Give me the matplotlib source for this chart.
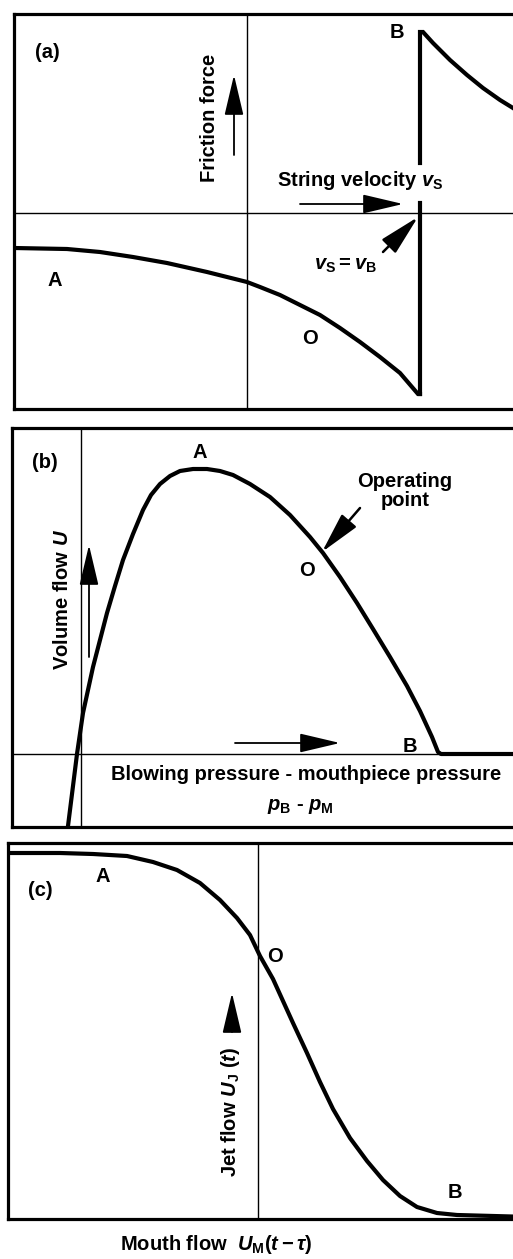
import matplotlib
matplotlib.use('Agg')
import matplotlib.pyplot as plt

# panel (a): friction force vs string velocity
fric_lo_v = [-233, -180, -147, -114, -80, -40, 0, 13, 33, 53, 73, 93, 113, 133, 153, 171, 173]
fric_lo_f = [-35, -36, -39, -44, -50, -59, -69, -74, -82, -92, -102, -115, -129, -144, -160, -181, -181]
fric_hi_v = [173, 173, 176, 186, 203, 220, 236, 253, 266, 272]
fric_hi_f = [50, 181, 181, 170, 153, 138, 125, 113, 105, 101]
jump_v = 173
jump_gap = [10, 50]

# panel (b): volume flow vs pressure difference
dp = [-14, -4, 2, 12, 19, 26, 34, 42, 52, 62, 70, 79, 89, 99, 112, 126, 139, 152, 169, 189,
      209, 229, 242, 259, 276, 292, 309, 326, 339, 351, 357, 360, 449]
flow = [-80, 0, 41, 87, 114, 141, 168, 194, 220, 244, 259, 270, 278, 283, 285, 285, 283, 279, 270, 257,
        239, 217, 201, 177, 151, 125, 97, 68, 43, 17, 2, 0, 0]

# panel (c): jet flow vs mouth flow
mouth = [-246, -198, -165, -131, -105, -81, -58, -38, -21, -8, 2, 15, 25, 35, 42, 49, 62, 75, 92,
         109, 125, 142, 159, 179, 199, 272]
jet = [366, 366, 365, 363, 357, 349, 336, 319, 301, 284, 263, 240, 218, 196, 181, 166, 137, 110, 81,
       58, 39, 23, 12, 6, 4, 2]

W, H = 513, 1259
plt.rcParams['font.family'] = ['Liberation Sans', 'DejaVu Sans']
plt.rcParams['font.weight'] = 'bold'
plt.rcParams['mathtext.fontset'] = 'custom'
plt.rcParams['mathtext.rm'] = 'Liberation Sans:bold'
plt.rcParams['mathtext.it'] = 'Liberation Sans:italic:bold'
plt.rcParams['mathtext.bf'] = 'Liberation Sans:bold'

fig = plt.figure(figsize=(W / 100, H / 100), dpi=100)
fig.patch.set_facecolor('white')


def px_axes(l, t, r, b, xlim, ylim):
    ax = fig.add_axes([l / W, 1 - b / H, (r - l) / W, (b - t) / H])
    ax.set_xlim(*xlim)
    ax.set_ylim(*ylim)
    ax.set_xticks([]), ax.set_yticks([])
    for s in ax.spines.values():
        s.set_linewidth(2.3)
    return ax


def arrow(ax, tail, tip, lw=1.3):
    ax.annotate('', xy=tip, xytext=tail,
                arrowprops=dict(arrowstyle='-|>,head_length=1.4,head_width=0.33',
                                lw=lw, color='k', mutation_scale=18,
                                shrinkA=0, shrinkB=0))


LW = 3.0
FS = 14.5

# ---- (a)
ax = px_axes(14, 14, 530, 409, (-233, 283), (-196, 199))
ax.axhline(0, color='k', lw=1.0)
ax.axvline(0, color='k', lw=1.0)
ax.plot(fric_lo_v, fric_lo_f, color='k', lw=LW, solid_joinstyle='miter')
ax.plot([jump_v, jump_v], [-181, jump_gap[0]], color='k', lw=LW)
ax.plot(fric_hi_v, fric_hi_f, color='k', lw=LW, solid_joinstyle='miter')
ax.text(-200, 161, '(a)', fontsize=FS, ha='center', va='center')
ax.text(-37, 95, 'Friction force', fontsize=FS, rotation=90, ha='center', va='center')
arrow(ax, (-13, 58), (-13, 138))
ax.text(150, 180, 'B', fontsize=FS, ha='center', va='center')
ax.text(30, 32, r'String velocity $v_{\mathrm{S}}$', fontsize=FS, ha='left', va='center')
arrow(ax, (53, 9), (156, 9))
ax.text(98, -52, r'$v_{\mathrm{S}} = v_{\mathrm{B}}$', fontsize=FS, ha='center', va='center')
arrow(ax, (136, -39), (171, -4), lw=1.8)
ax.text(-192, -67, 'A', fontsize=FS, ha='center', va='center')
ax.text(63, -125, 'O', fontsize=FS, ha='center', va='center')

# ---- (b)
ax = px_axes(12, 428, 530, 827, (-69, 449), (-73, 326))
ax.axhline(0, color='k', lw=1.0)
ax.axvline(0, color='k', lw=1.0)
ax.plot(dp, flow, color='k', lw=LW)
ax.text(-36, 291, '(b)', fontsize=FS, ha='center', va='center')
ax.text(119, 301, 'A', fontsize=FS, ha='center', va='center')
ax.text(324, 263, 'Operating\npoint', fontsize=FS, ha='center', va='center', linespacing=0.95)
arrow(ax, (279, 246), (241, 202), lw=1.8)
ax.text(226, 184, 'O', fontsize=FS, ha='center', va='center')
ax.text(329, 8, 'B', fontsize=FS, ha='center', va='center')
ax.text(-19, 155, r'Volume flow $U$', fontsize=FS, rotation=90, ha='center', va='center')
arrow(ax, (8, 97), (8, 209))
arrow(ax, (154, 11), (259, 11))
ax.text(225, -21, 'Blowing pressure - mouthpiece pressure', fontsize=FS, ha='center', va='center')
ax.text(219, -53, r'$p_{\mathrm{B}}$ - $p_{\mathrm{M}}$', fontsize=FS, ha='center', va='center')

# ---- (c)
ax = px_axes(8, 843, 530, 1219, (-250, 272), (0, 376))
ax.axvline(0, color='k', lw=1.0)
ax.plot(mouth, jet, color='k', lw=LW)
ax.text(-218, 329, '(c)', fontsize=FS, ha='center', va='center')
ax.text(-155, 342, 'A', fontsize=FS, ha='center', va='center')
ax.text(17, 262, 'O', fontsize=FS, ha='center', va='center')
ax.text(197, 27, 'B', fontsize=FS, ha='center', va='center')
ax.text(-28, 107, r'Jet flow $U_{\mathrm{J}}$ $(t)$', fontsize=FS, rotation=90, ha='center', va='center')
arrow(ax, (-26, 187), (-26, 226))
ax.text(-138, -26, r'Mouth flow  $U_{\mathrm{M}}(t - \tau)$', fontsize=FS, ha='left', va='center',
        clip_on=False)
arrow(ax, (82, -24), (122, -24))

fig.savefig('out.png', dpi=100)
